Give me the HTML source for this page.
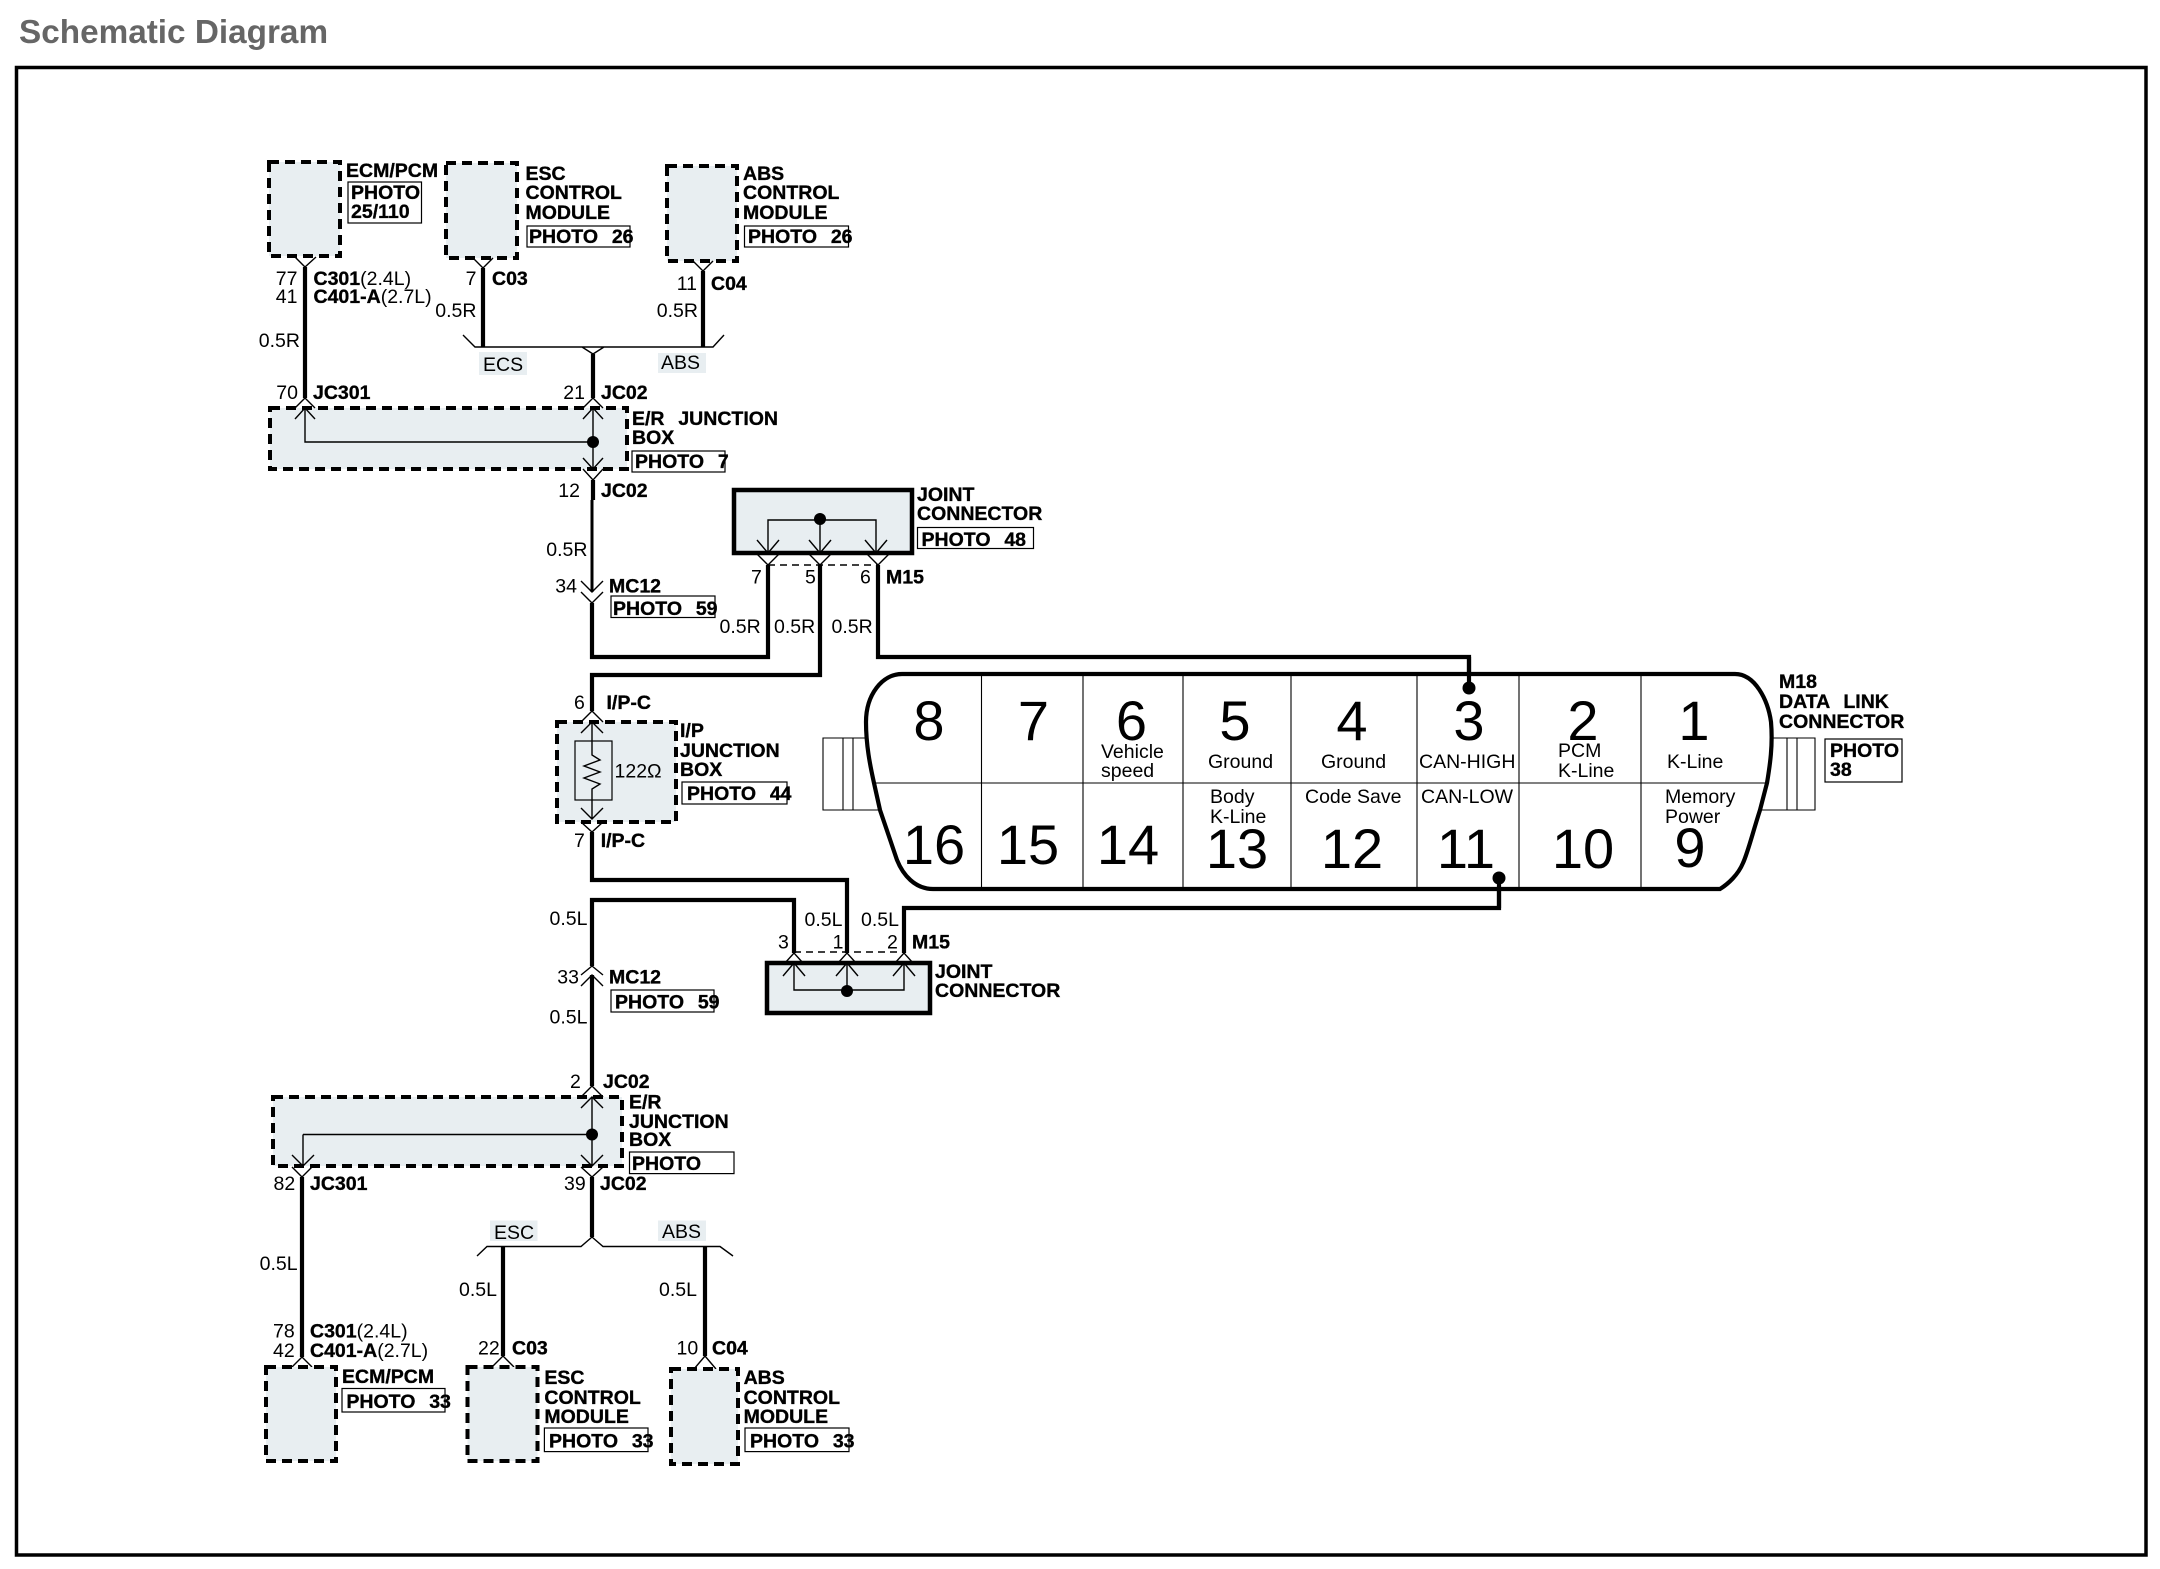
<!DOCTYPE html>
<html><head><meta charset="utf-8"><title>Schematic Diagram</title>
<style>
html,body{margin:0;padding:0;background:#fff;width:2160px;height:1569px;overflow:hidden}
svg{display:block}
text{font-family:"Liberation Sans",sans-serif;font-size:19.5px;fill:#000}
.b{font-weight:bold;stroke:#000;stroke-width:.35px;word-spacing:1.5px}
.n{font-size:56px;text-anchor:middle}
.e{text-anchor:end}
.w{fill:none;stroke:#000;stroke-width:4.2px}
.t{fill:none;stroke:#000;stroke-width:1.4px}
.d{fill:#e8eef1;stroke:#000;stroke-width:4px;stroke-dasharray:10 6}
.j{fill:#e8eef1;stroke:#000;stroke-width:4.5px}
.p{fill:#fff;stroke:#000;stroke-width:1.2px}
.l{fill:#e8eef1}
</style></head><body>
<svg width="2160" height="1569" viewBox="0 0 2160 1569" xmlns="http://www.w3.org/2000/svg">
<text x="19" y="43" style="font-size:33.300px;font-weight:bold;fill:#666">Schematic Diagram</text>
<rect x="16.500" y="67.500" width="2129.500" height="1487.500" fill="#fff" stroke="#000" stroke-width="3.500"/>

<!-- top modules -->
<rect class="d" x="269" y="162" width="71" height="94"/>
<rect class="d" x="446" y="163" width="71" height="95"/>
<rect class="d" x="667" y="166" width="70" height="95"/>
<path class="t" d="M295 257L305 267L316 257M473 258L483 268L493 258M693 261L703 271L713 261"/>
<path class="w" d="M305 267V398M483 268V347M703 271V347"/>
<path class="t" d="M463 335L475 347H713L724 335M582 347L593 354L604 347"/>
<path class="w" d="M593 354V398"/>

<!-- E/R box top -->
<rect class="d" x="270" y="408" width="357" height="61"/>
<path class="t" d="M295 408L305 398L315 408M583 408L593 398L603 408"/>
<path class="t" d="M295 419L305 408L315 419M583 419L593 408L603 419M305 408V442H593M593 408V469M583 458L593 469L603 458M583 469L593 480L603 469"/>
<circle cx="593" cy="442" r="6" fill="#000"/>
<path class="w" d="M593 480V500"/>
<path class="t" d="M592 500V592" style="stroke-width:3"/>
<path class="t" d="M581 581L592 592L603 581M581 592L592 603L603 592"/>
<path class="w" d="M592 603V657H768V565M820 565V675H592V711M878 565V657H1469V682"/>

<!-- Joint connector top -->
<rect class="j" x="734" y="490" width="178" height="63"/>
<path class="t" d="M768 553V520H876V553M820 520V553M757 540L768 553L779 540M809 540L820 553L831 540M865 540L876 553L887 540"/>
<circle cx="820" cy="519" r="6" fill="#000"/>
<path class="t" d="M757 554L768 565L779 554M809 554L820 565L831 554M867 554L878 565L889 554"/>
<path class="t" d="M768 565H878" stroke-dasharray="7 5"/>

<!-- I/P box -->
<rect class="d" x="557" y="722" width="119" height="100"/>
<path class="t" d="M581 722L592 711L603 722M581 733L592 722L603 733M592 722V741"/>
<rect x="575" y="741" width="37" height="59" fill="none" stroke="#000" stroke-width="1.200"/>
<path class="t" d="M592 741V755L600 760L584 766L600 772L584 778L600 784L592 789V819M581 808L592 819L603 808M581 822L592 832L603 822"/>
<path class="w" d="M592 832V880H847V953M794 953V900H592V966M904 953V908H1499V884"/>

<!-- Joint bottom -->
<rect class="j" x="767" y="963" width="163" height="50"/>
<path class="t" d="M785 963L794 953L803 963M838 963L847 953L856 963M895 963L904 953L913 963"/>
<path class="t" d="M794 963V990H904V963M847 963V990M783 976L794 963L805 976M836 976L847 963L858 976M893 976L904 963L915 976"/>
<circle cx="847" cy="991" r="6" fill="#000"/>
<path class="t" d="M794 952H904" stroke-dasharray="7 5"/>

<path class="t" d="M581 975L592 966L603 975M581 986L592 975L603 986"/>
<path class="w" d="M592 975V1086"/>

<!-- E/R box bottom -->
<rect class="d" x="273" y="1097" width="349" height="69"/>
<path class="t" d="M581 1097L592 1086L603 1097M581 1108L592 1097L603 1108M592 1097V1166M581 1155L592 1166L603 1155M303 1134.500H592M303 1134.500V1166M292 1155L303 1166L314 1155M292 1167L302 1177L312 1167M581 1167L592 1177L603 1167"/>
<circle cx="592" cy="1134.500" r="6" fill="#000"/>
<path class="w" d="M302 1177V1357M592 1177V1237"/>
<path class="t" d="M477 1256L487 1246.500H581L592 1237L603 1246.500H720L733 1256"/>
<path class="w" d="M503 1246V1356M705 1246V1356"/>
<path class="t" d="M292 1367L302 1357L312 1367M492 1367L503 1356L514 1367M694 1369L705 1356L716 1369"/>
<rect class="d" x="266" y="1367" width="70" height="94"/>
<rect class="d" x="467.500" y="1367" width="70" height="94"/>
<rect class="d" x="671" y="1369" width="67" height="95"/>

<!-- DLC -->
<path d="M867 738H823V810H880M843 738V810M853 738V810M1770 738H1815V810H1760M1787 738V810M1797 738V810" fill="none" stroke="#000" stroke-width="1.100"/>
<path d="M902 674H1735C1755 674 1768 700 1771 722C1773 745 1770 765 1767 783L1760 810C1752 835 1748 852 1743 863C1738 875 1728 884 1720 889H933C915 889 903 875 897 860L880 810L874 783C870 765 866 745 866 722C866 695 882 674 902 674Z" fill="#fff" stroke="#000" stroke-width="4.200"/>
<path d="M981.500 675V888M1083 675V888M1183 675V888M1291 675V888M1417 675V888M1519 675V888M1641 675V888M874 783H1767" fill="none" stroke="#000" stroke-width="1.100"/>
<path class="w" d="M1469 657V682M1499 908V884"/>
<circle cx="1469" cy="688" r="6.500" fill="#000"/>
<circle cx="1499" cy="878" r="6.500" fill="#000"/>

<text class="n" x="929" y="740">8</text><text class="n" x="1033.500" y="740">7</text><text class="n" x="1131.500" y="740">6</text><text class="n" x="1235" y="740">5</text><text class="n" x="1352" y="740">4</text><text class="n" x="1469" y="740">3</text><text class="n" x="1583" y="740">2</text><text class="n" x="1694" y="740">1</text>
<text class="n" x="934" y="864">16</text><text class="n" x="1028" y="864">15</text><text class="n" x="1128" y="864">14</text><text class="n" x="1237" y="868">13</text><text class="n" x="1352" y="868">12</text><text class="n" x="1466" y="868">11</text><text class="n" x="1583" y="868">10</text><text class="n" x="1690" y="867">9</text>

<text x="1101" y="758">Vehicle</text><text x="1101" y="777">speed</text>
<text x="1208" y="768">Ground</text><text x="1321" y="768">Ground</text><text x="1419" y="768">CAN-HIGH</text>
<text x="1558" y="757">PCM</text><text x="1558" y="777">K-Line</text><text x="1667" y="768">K-Line</text>
<text x="1210" y="803">Body</text><text x="1210" y="823">K-Line</text><text x="1305" y="803">Code Save</text><text x="1421" y="803">CAN-LOW</text>
<text x="1665" y="803">Memory</text><text x="1665" y="823">Power</text>

<text class="b" x="1779" y="688">M18</text><text class="b" x="1779" y="708" xml:space="preserve">DATA  LINK</text><text class="b" x="1779" y="728">CONNECTOR</text>
<rect class="p" x="1825" y="739" width="77" height="43"/>
<text class="b" x="1830" y="757">PHOTO</text><text class="b" x="1830" y="776">38</text>

<!-- top labels -->
<text class="b" x="346" y="177">ECM/PCM</text>
<rect class="p" x="348" y="182" width="73.500" height="41"/>
<text class="b" x="351" y="199">PHOTO</text><text class="b" x="351" y="218">25/110</text>
<text class="b" x="525.500" y="180">ESC</text><text class="b" x="525.500" y="199">CONTROL</text><text class="b" x="525.500" y="219">MODULE</text>
<rect class="p" x="527" y="226" width="103" height="21"/>
<text class="b" x="529" y="243" xml:space="preserve">PHOTO  26</text>
<text class="b" x="743" y="180">ABS</text><text class="b" x="743" y="199">CONTROL</text><text class="b" x="743" y="219">MODULE</text>
<rect class="p" x="744.500" y="226" width="104" height="21"/>
<text class="b" x="748" y="243" xml:space="preserve">PHOTO  26</text>
<text class="e" x="297.500" y="285">77</text><text class="e" x="297.500" y="303">41</text>
<text x="313.500" y="285"><tspan class="b">C301</tspan>(2.4L)</text>
<text x="313.500" y="303"><tspan class="b">C401-A</tspan>(2.7L)</text>
<text class="e" x="476.500" y="285">7</text><text class="b" x="492" y="285">C03</text>
<text class="e" x="697" y="290">11</text><text class="b" x="711" y="290">C04</text>
<text class="e" x="476.500" y="317">0.5R</text><text class="e" x="698" y="317">0.5R</text><text class="e" x="300" y="347">0.5R</text>
<rect class="l" x="479" y="352" width="48" height="23"/><text x="483" y="371">ECS</text>
<rect class="l" x="658" y="353" width="48" height="20"/><text x="661" y="369">ABS</text>
<text class="e" x="298" y="399">70</text><text class="b" x="313" y="399">JC301</text>
<text class="e" x="585" y="399">21</text><text class="b" x="601" y="399">JC02</text>
<text class="b" x="632" y="425" xml:space="preserve">E/R  JUNCTION</text><text class="b" x="632" y="444">BOX</text>
<rect class="p" x="632" y="451" width="93" height="21"/>
<text class="b" x="635" y="468" xml:space="preserve">PHOTO  7</text>
<text class="e" x="580" y="497">12</text><text class="b" x="601" y="497">JC02</text>

<!-- middle labels -->
<text class="b" x="917" y="501">JOINT</text><text class="b" x="917" y="520">CONNECTOR</text>
<rect class="p" x="917.500" y="527.500" width="116" height="21"/>
<text class="b" x="921.500" y="546" xml:space="preserve">PHOTO  48</text>
<text class="e" x="587.500" y="556">0.5R</text>
<text class="e" x="577" y="592.500">34</text><text class="b" x="609" y="592.500">MC12</text>
<rect class="p" x="611" y="596" width="104" height="21.500"/>
<text class="b" x="613" y="615" xml:space="preserve">PHOTO  59</text>
<text x="751" y="583.500">7</text><text x="805" y="583.500">5</text><text x="860" y="583.500">6</text><text class="b" x="886" y="583.500">M15</text>
<text x="719.500" y="633">0.5R</text><text x="774" y="633">0.5R</text><text x="831.500" y="633">0.5R</text>
<text x="574" y="709">6</text><text class="b" x="606.500" y="709">I/P-C</text>
<text class="b" x="680" y="737">I/P</text><text class="b" x="680" y="757">JUNCTION</text><text class="b" x="680" y="776">BOX</text>
<rect class="p" x="682" y="782" width="105" height="22"/>
<text class="b" x="687" y="800" xml:space="preserve">PHOTO  44</text>
<text x="614.500" y="777.500">122Ω</text>
<text x="574" y="847">7</text><text class="b" x="600.700" y="847">I/P-C</text>
<text class="e" x="587.500" y="925">0.5L</text><text x="804.500" y="926">0.5L</text><text x="861" y="926">0.5L</text>
<text x="778" y="948.500">3</text><text x="832.600" y="948.500">1</text><text x="887" y="948.500">2</text><text class="b" x="912" y="948.500">M15</text>
<text class="e" x="579" y="983.500">33</text><text class="b" x="609" y="983.500">MC12</text>
<rect class="p" x="611" y="990" width="103" height="22"/>
<text class="b" x="615" y="1008.500" xml:space="preserve">PHOTO  59</text>
<text class="e" x="587.500" y="1023.500">0.5L</text>
<text class="b" x="935" y="978">JOINT</text><text class="b" x="935" y="997">CONNECTOR</text>

<!-- bottom labels -->
<text x="570" y="1088">2</text><text class="b" x="603" y="1088">JC02</text>
<text class="b" x="629" y="1108.500">E/R</text><text class="b" x="629" y="1128">JUNCTION</text><text class="b" x="629" y="1146">BOX</text>
<rect class="p" x="629.500" y="1152" width="104.500" height="21.600"/>
<text class="b" x="632" y="1170">PHOTO</text>
<text x="273.500" y="1190">82</text><text class="b" x="310" y="1190">JC301</text>
<text x="564" y="1190">39</text><text class="b" x="600" y="1190">JC02</text>
<rect class="l" x="490" y="1220.500" width="47.500" height="20.500"/><text x="494" y="1239">ESC</text>
<rect class="l" x="658" y="1220.500" width="48" height="20.500"/><text x="662" y="1238">ABS</text>
<text class="e" x="297.600" y="1270">0.5L</text><text class="e" x="497" y="1296">0.5L</text><text class="e" x="697" y="1296">0.5L</text>
<text x="273" y="1337.600">78</text><text x="273" y="1357">42</text>
<text x="310" y="1337.600"><tspan class="b">C301</tspan>(2.4L)</text>
<text x="310" y="1357"><tspan class="b">C401-A</tspan>(2.7L)</text>
<text x="478" y="1354.500">22</text><text class="b" x="512" y="1354.500">C03</text>
<text x="676.500" y="1354.500">10</text><text class="b" x="712" y="1354.500">C04</text>
<text class="b" x="342" y="1383">ECM/PCM</text>
<rect class="p" x="342" y="1388.500" width="103" height="23.500"/>
<text class="b" x="346.400" y="1408" xml:space="preserve">PHOTO  33</text>
<text class="b" x="544.400" y="1384">ESC</text><text class="b" x="544.400" y="1404">CONTROL</text><text class="b" x="544.400" y="1423">MODULE</text>
<rect class="p" x="544.400" y="1428" width="103.600" height="23.600"/>
<text class="b" x="549" y="1447.500" xml:space="preserve">PHOTO  33</text>
<text class="b" x="743.600" y="1384">ABS</text><text class="b" x="743.600" y="1404">CONTROL</text><text class="b" x="743.600" y="1423">MODULE</text>
<rect class="p" x="745" y="1428" width="104" height="23.600"/>
<text class="b" x="750" y="1447.500" xml:space="preserve">PHOTO  33</text>
</svg>
</body></html>
